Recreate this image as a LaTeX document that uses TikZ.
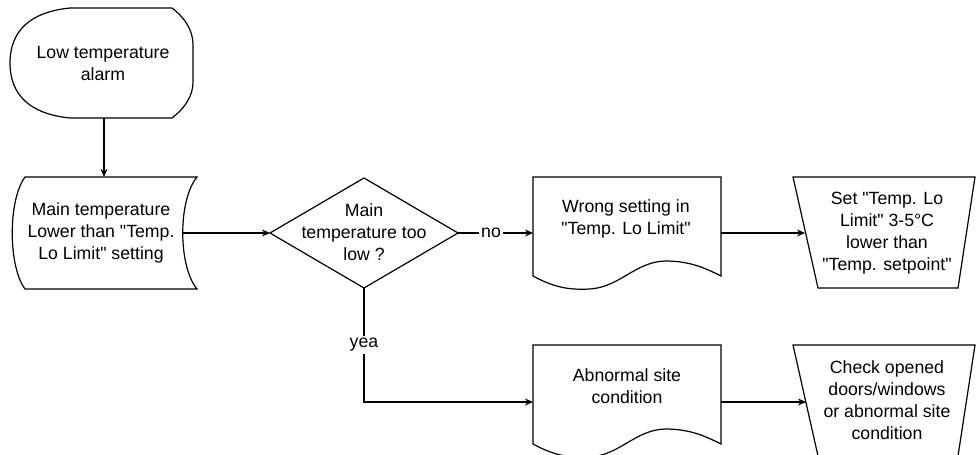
\documentclass[tikz,border=0pt]{standalone}
\usepackage{fontspec}
\setmainfont{Liberation Sans}[Ligatures=TeXOff]
\usetikzlibrary{arrows.meta}
\begin{document}
\begin{tikzpicture}[x=1pt,y=-1pt,
  shapeline/.style={draw=black,line width=1.2pt,line join=miter},
  conn/.style={draw=black,line width=1.2pt,-{Stealth[length=8pt,width=7pt]}},
  txt/.style={align=center,font=\fontsize{17.7}{22}\selectfont,inner sep=0pt},
  lbl/.style={fill=white,font=\fontsize{17.7}{22}\selectfont,inner sep=2pt}]
\useasboundingbox (0,0) rectangle (977,455);
\fill[white] (0,0) rectangle (977,455);
% start (display shape)
\draw[shapeline] (70,8) -- (172,8) .. controls (185,18) and (193,30) .. (193,45) -- (193,82)
  .. controls (193,96) and (185,108) .. (172,118) -- (70,118)
  .. controls (30,114) and (10,95) .. (10,63) .. controls (10,31) and (30,12) .. cycle;
\node[txt] (start) at (103,63) {Low temperature\\alarm};
\coordinate (startB) at (104,118);
% stored data
\draw[shapeline] (25,177) -- (197,177) .. controls (178,200) and (178,266) .. (197,289)
  -- (25,289) .. controls (8,266) and (8,200) .. cycle;
\node[txt] (main) at (101,233) {Main temperature\\Lower than "Temp.\\Lo Limit" setting};
\coordinate (mainT) at (104,177);
\coordinate (mainR) at (183,233);
% decision
\draw[shapeline] (270,233) -- (364,178) -- (458,233) -- (364,288) -- cycle;
\node[txt] (dec) at (364,232) {Main\\temperature too\\low ?};
\coordinate (decL) at (270,233);
\coordinate (decR) at (458,233);
\coordinate (decB) at (364,288);
% document 1
\draw[shapeline] (533,276) -- (533,177) -- (721,177) -- (721,276)
  .. controls (705,268) and (690,261) .. (665,261) .. controls (635,262) and (620,287) .. (590,289)
  .. controls (570,290) and (555,288) .. cycle;
\node[txt] (doc1) at (626,219) {Wrong setting in\\"Temp. Lo Limit"};
\coordinate (doc1L) at (533,233);
\coordinate (doc1R) at (721,233);
% trapezoid 1
\draw[shapeline] (793,177) -- (975,177) -- (958,288) -- (818,288) -- cycle;
\node[txt] (trap1) at (887,233) {Set "Temp. Lo\\Limit" 3-5°C\\lower than\\"Temp. setpoint"};
\coordinate (trap1L) at (805,233);
% document 2 and trapezoid 2
\begin{scope}[shift={(0,168)}]
\draw[shapeline] (533,276) -- (533,177) -- (721,177) -- (721,276)
  .. controls (705,268) and (690,261) .. (665,261) .. controls (635,262) and (620,287) .. (590,289)
  .. controls (570,290) and (555,288) .. cycle;
\draw[shapeline] (793,177) -- (975,177) -- (958,288) -- (818,288) -- cycle;
\end{scope}
\node[txt] (doc2) at (627,386) {Abnormal site\\condition};
\coordinate (doc2L) at (533,402);
\coordinate (doc2R) at (721,402);
\node[txt] (trap2) at (887,400) {Check opened\\doors/windows\\or abnormal site\\condition};
\coordinate (trap2L) at (806,402);
% connectors
\draw[conn] (startB) -- (mainT);
\draw[conn] (mainR) -- (decL);
\draw[conn] (decR) -- node[lbl,pos=0.44] (no) {no} (doc1L);
\draw[conn] (doc1R) -- (trap1L);
\draw[conn] (decB) |- node[lbl,pos=0.25] (yea) {yea} (doc2L);
\draw[conn] (doc2R) -- (trap2L);
\end{tikzpicture}
\end{document}
